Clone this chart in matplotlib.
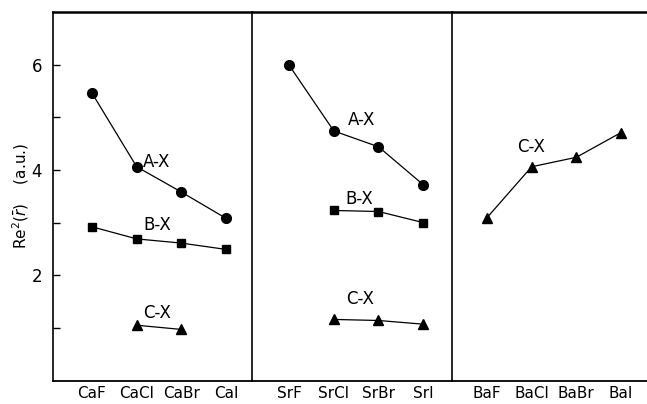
import matplotlib.pyplot as plt
from matplotlib.ticker import FixedLocator

# molecules per panel
ca_labels = ['CaF', 'CaCl', 'CaBr', 'CaI']
sr_labels = ['SrF', 'SrCl', 'SrBr', 'SrI']
ba_labels = ['BaF', 'BaCl', 'BaBr', 'BaI']

# Re^2(r) values (None = no point)
ca_ax = [5.46, 4.06, 3.58, 3.08]
ca_bx = [2.92, 2.69, 2.61, 2.49]
ca_cx = [None, 1.05, 0.97, None]

sr_ax = [5.99, 4.74, 4.44, 3.72]
sr_bx = [None, 3.23, 3.21, 3.00]
sr_cx = [None, 1.16, 1.14, 1.07]

ba_cx = [3.09, 4.06, 4.24, 4.71]


def draw(ax, ys, marker, ms):
    pts = [(i, y) for i, y in enumerate(ys) if y is not None]
    xs = [p[0] for p in pts]
    vals = [p[1] for p in pts]
    ax.plot(xs, vals, color='black', lw=0.9, marker=marker, ms=ms,
            markerfacecolor='black', markeredgecolor='black')


def label(ax, x, y, s):
    ax.text(x, y, s, fontsize=12, ha='left', va='center')


fig = plt.figure(figsize=(6.47, 4.04), dpi=100)
gs = fig.add_gridspec(1, 3, left=53/647, right=1.0, top=1-12/404,
                      bottom=1-380.5/404, wspace=0, width_ratios=[199, 200, 195])
axes = [fig.add_subplot(gs[0, i]) for i in range(3)]

# Ca panel
draw(axes[0], ca_ax, 'o', 7)
draw(axes[0], ca_bx, 's', 6)
draw(axes[0], ca_cx, '^', 7.5)
label(axes[0], 1.14, 4.15, 'A-X')
label(axes[0], 1.14, 2.95, 'B-X')
label(axes[0], 1.14, 1.29, 'C-X')

# Sr panel
draw(axes[1], sr_ax, 'o', 7)
draw(axes[1], sr_bx, 's', 6)
draw(axes[1], sr_cx, '^', 7.5)
label(axes[1], 1.32, 4.94, 'A-X')
label(axes[1], 1.25, 3.45, 'B-X')
label(axes[1], 1.27, 1.54, 'C-X')

# Ba panel
draw(axes[2], ba_cx, '^', 7.5)
label(axes[2], 0.67, 4.43, 'C-X')

xlims = [(-0.872, 3.58), (-0.83, 3.645), (-0.78, 3.58)]
labels = [ca_labels, sr_labels, ba_labels]
for i, ax in enumerate(axes):
    ax.set_ylim(0, 7)
    ax.set_xlim(*xlims[i])
    ax.set_xticks(range(4))
    ax.set_xticklabels(labels[i], fontsize=11)
    ax.tick_params(axis='x', length=0, pad=4)
    ax.spines['top'].set_linewidth(1.8)
    ax.spines['bottom'].set_linewidth(1.3)
    ax.spines['left'].set_linewidth(1.2)
    ax.spines['right'].set_visible(False)
    if i > 0:
        ax.tick_params(axis='y', left=False, labelleft=False)

axes[0].yaxis.set_major_locator(FixedLocator([2, 4, 6]))
axes[0].yaxis.set_minor_locator(FixedLocator([1, 3, 5]))
axes[0].tick_params(axis='y', which='both', direction='in', length=5,
                    width=1, labelsize=12, pad=8)
axes[0].set_ylabel(r'Re$^{2}$($\bar{r}$)    (a.u.)', fontsize=11, labelpad=0)

fig.savefig('out.png', dpi=100)
